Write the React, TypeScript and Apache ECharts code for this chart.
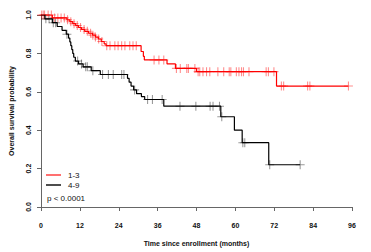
import React, { useEffect, useRef } from "react";
import * as echarts from "echarts";

// Kaplan-Meier step data (time in months, survival probability)
const redTimes = [0, 3.5, 8.0, 8.9, 9.8, 10.7, 11.6, 12.5, 13.5, 14.7, 15.9, 16.8, 17.7, 18.6, 19.5, 20.1, 30.9, 31.6, 31.9, 38.9, 41.5, 48.0, 72.7, 94.9];
const redSurv = [1.0, 0.985, 0.975, 0.965, 0.955, 0.945, 0.935, 0.925, 0.915, 0.905, 0.895, 0.885, 0.875, 0.862, 0.85, 0.84, 0.81, 0.785, 0.766, 0.745, 0.722, 0.705, 0.63, 0.63];
const redCensor = [0.2, 0.7, 1.1, 2.2, 3.2, 4.2, 5.2, 6.2, 7.2, 8.2, 9.2, 10.2, 11.2, 12.2, 13.3, 14.3, 15.3, 16.0, 16.8, 17.8, 18.8, 20.3, 21.3, 22.8, 23.8, 24.9, 25.9, 27.4, 28.4, 29.4, 34.9, 36.4, 37.9, 41.8, 43.0, 45.0, 45.5, 47.5, 48.5, 49.0, 50.0, 51.1, 52.1, 54.6, 56.4, 58.1, 58.6, 60.3, 61.1, 61.9, 62.5, 64.2, 69.5, 70.2, 71.9, 74.2, 74.9, 82.3, 83.0, 94.9];

const blackTimes = [0, 1.2, 3.5, 5.0, 6.5, 7.8, 8.5, 8.9, 9.2, 9.5, 9.8, 10.1, 10.6, 11.6, 13.0, 15.5, 18.3, 26.7, 27.2, 27.8, 28.6, 29.5, 31.0, 32.0, 37.9, 55.5, 59.7, 62.1, 70.3, 80.0];
const blackSurv = [1.0, 0.98, 0.96, 0.94, 0.92, 0.9, 0.88, 0.86, 0.84, 0.82, 0.8, 0.78, 0.76, 0.745, 0.73, 0.71, 0.69, 0.67, 0.65, 0.63, 0.61, 0.59, 0.575, 0.56, 0.525, 0.47, 0.4, 0.335, 0.22, 0.22];
const blackCensor = [1.5, 2.5, 3.8, 4.5, 8.0, 11.3, 12.5, 13.8, 14.3, 16.0, 19.0, 20.8, 22.3, 24.9, 25.6, 28.9, 32.9, 34.4, 37.4, 42.9, 47.8, 52.2, 53.1, 55.1, 55.8, 62.3, 62.9, 70.6, 80.0];

const xTicks = [0, 12, 24, 36, 48, 60, 72, 84, 96];
const groupNames = ["1-3", "4-9"];
const pText = "p < 0.0001";

const FONT = "'Liberation Sans', Arial, Helvetica, sans-serif";
const CROSS =
  "path://M-0.12,-1L0.12,-1L0.12,-0.12L1,-0.12L1,0.12L0.12,0.12L0.12,1L-0.12,1L-0.12,0.12L-1,0.12L-1,-0.12L-0.12,-0.12Z";

function stepValue(times: number[], surv: number[], t: number) {
  let v = surv[0];
  for (let i = 0; i < times.length; i++) {
    if (times[i] <= t) v = surv[i];
  }
  return v;
}

export default function App() {
  const ref = useRef<HTMLDivElement>(null);
  useEffect(() => {
    const chart = echarts.init(ref.current!, undefined, { renderer: "svg" });
    const axisLabel = { fontFamily: FONT, fontSize: 7, fontWeight: "bold", color: "#111" };
    chart.setOption({
      animation: false,
      grid: { left: 34.5, right: 19, top: 15, bottom: 45 },
      xAxis: {
        type: "value",
        min: xTicks[0],
        max: xTicks[xTicks.length - 1],
        interval: 12,
        offset: 8,
        name: "Time since enrollment (months)",
        nameLocation: "middle",
        nameGap: 25,
        nameTextStyle: { fontFamily: FONT, fontSize: 7, fontWeight: "bold", color: "#111" },
        axisLine: { lineStyle: { color: "#666", width: 1 } },
        axisTick: { length: 4, lineStyle: { color: "#666" } },
        axisLabel: { ...axisLabel, margin: 7 },
        splitLine: { show: false },
      },
      yAxis: {
        type: "value",
        min: 0,
        max: 1,
        interval: 0.2,
        name: "Overall survival probability",
        nameLocation: "middle",
        nameRotate: 90,
        nameGap: 26,
        nameTextStyle: { fontFamily: FONT, fontSize: 7, fontWeight: "bold", color: "#111" },
        axisLine: { show: true, lineStyle: { color: "#666", width: 1 } },
        axisTick: { show: true, length: 4, lineStyle: { color: "#666" } },
        axisLabel: { ...axisLabel, rotate: 90, margin: 9, formatter: (v: number) => v.toFixed(1) },
        splitLine: { show: false },
      },
      graphic: [
        { type: "line", shape: { x1: 46, y1: 175, x2: 61, y2: 175 }, style: { stroke: "#ff4d4d", lineWidth: 1.6 } },
        { type: "line", shape: { x1: 46, y1: 185, x2: 61, y2: 185 }, style: { stroke: "#222", lineWidth: 1.6 } },
        { type: "text", x: 68, y: 175, style: { text: groupNames[0], fontFamily: FONT, fontSize: 8, fill: "#111", verticalAlign: "middle" } },
        { type: "text", x: 68, y: 185, style: { text: groupNames[1], fontFamily: FONT, fontSize: 8, fill: "#111", verticalAlign: "middle" } },
        { type: "text", x: 47, y: 198, style: { text: pText, fontFamily: FONT, fontSize: 8, fill: "#111", verticalAlign: "middle" } },
      ],
      series: [
        {
          type: "line",
          step: "end",
          data: redTimes.map((t, i) => [t, redSurv[i]]),
          showSymbol: false,
          lineStyle: { color: "#ff0000", width: 1.2 },
          z: 3,
        },
        {
          type: "line",
          step: "end",
          data: blackTimes.map((t, i) => [t, blackSurv[i]]),
          showSymbol: false,
          lineStyle: { color: "#000", width: 1.2 },
          z: 3,
        },
        {
          type: "scatter",
          data: redCensor.map((t) => [t, stepValue(redTimes, redSurv, t)]),
          symbol: CROSS,
          symbolSize: 9,
          itemStyle: { color: "#ff0000", opacity: 0.45 },
          z: 2,
        },
        {
          type: "scatter",
          data: blackCensor.map((t) => [t, stepValue(blackTimes, blackSurv, t)]),
          symbol: CROSS,
          symbolSize: 9,
          itemStyle: { color: "#000", opacity: 0.4 },
          z: 2,
        },
      ],
    });
    return () => chart.dispose();
  }, []);
  return (
    <div
      ref={ref}
      style={{ position: "absolute", left: 0, top: 0, width: 371, height: 252, background: "#fff" }}
    />
  );
}
